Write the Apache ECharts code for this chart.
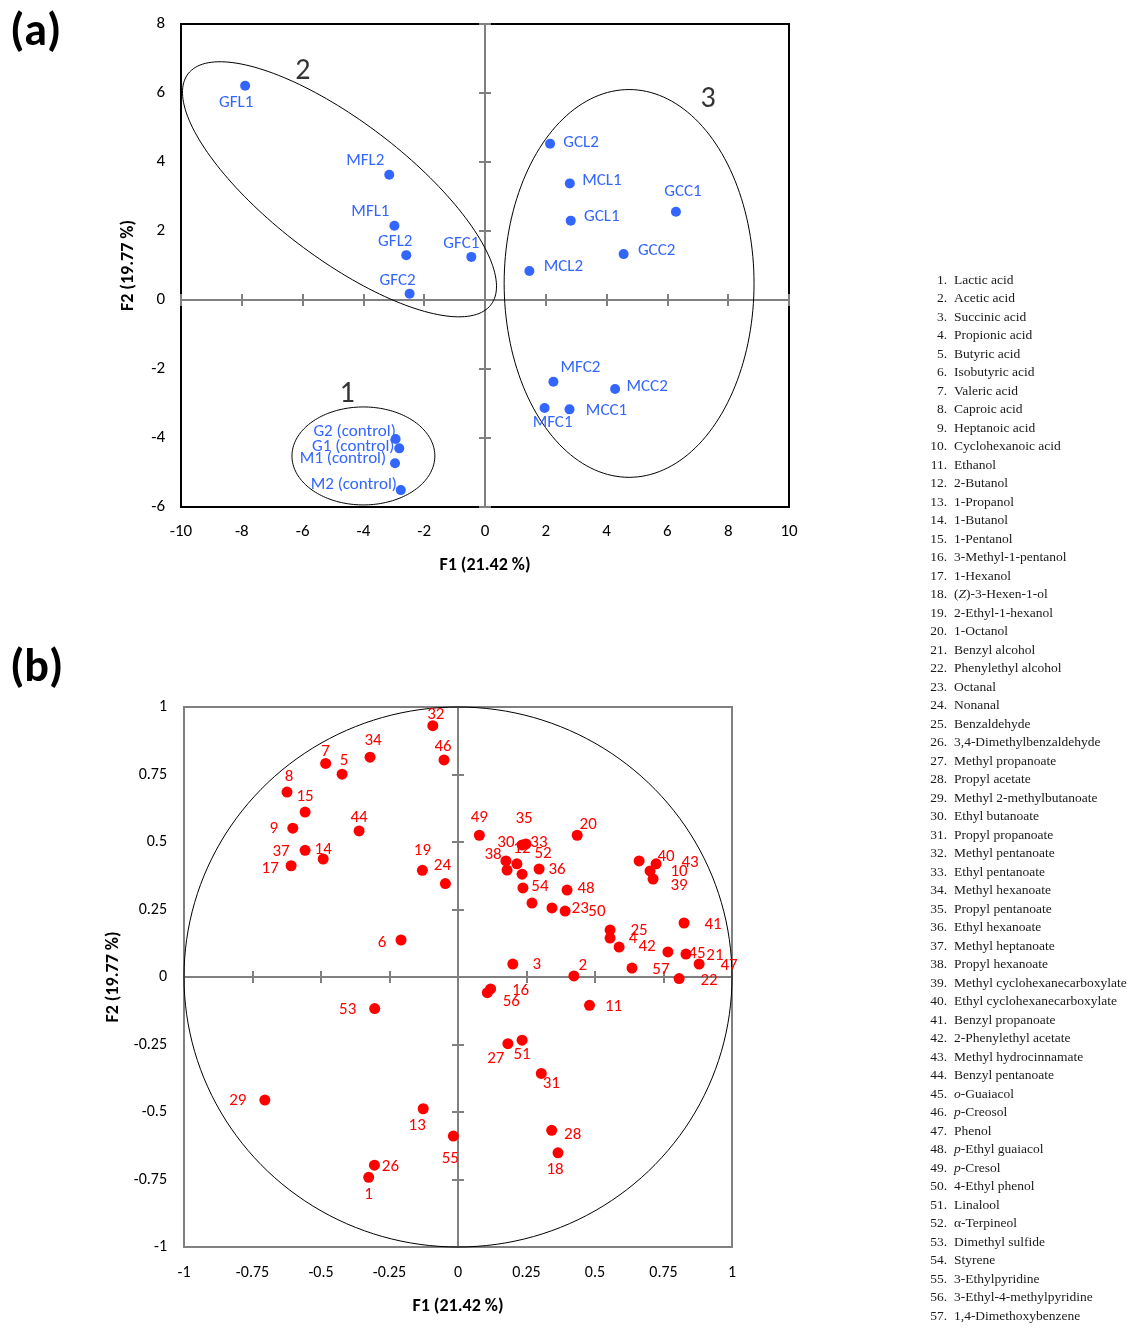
<!DOCTYPE html>
<html><head><meta charset="utf-8">
<script src="https://cdn.jsdelivr.net/npm/echarts@6/dist/echarts.min.js"></script>
<style>html,body{margin:0;padding:0;background:#fff}#c{width:1139px;height:1329px}</style>
</head><body><div id="c"></div>
<script>
// ---------- Panel (a): scores ----------
const aNames = ['GFL1','MFL2','MFL1','GFL2','GFC1','GFC2','GCL2','MCL1','GCL1','GCC1','GCC2','MCL2','MFC2','MCC2','MFC1','MCC1','G2 (control)','G1 (control)','M1 (control)','M2 (control)'];
const aF1 = [-7.89,-3.15,-2.98,-2.59,-0.45,-2.48,2.14,2.79,2.82,6.28,4.56,1.46,2.25,4.28,1.96,2.78,-2.94,-2.82,-2.96,-2.77];
const aF2 = [6.21,3.63,2.15,1.30,1.25,0.18,4.53,3.38,2.30,2.56,1.33,0.84,-2.37,-2.58,-3.13,-3.17,-4.03,-4.30,-4.73,-5.51];
const aXTicks = {min:-10, max:10, interval:2};
const aYTicks = {min:-6, max:8, interval:2};
// group ellipses: centre, conjugate semi-axis vectors (data units)
const ellCx = [-4.0, -4.786, 4.74];
const ellCy = [-4.52, 3.209, 0.48];
const ellUx = [2.35, 4.983, 4.11];
const ellUy = [0, -3.345, 0];
const ellVx = [0, -1.359, 0];
const ellVy = [1.42, -1.574, 5.62];
const groupNames = ['1','2','3'];
const groupX = [-4.54, -5.99, 7.34];
const groupY = [-2.75, 6.61, 5.80];

// ---------- Panel (b): loadings ----------
const bLabels = ['1','2','3','4','5','6','7','8','9','10','11','12','13','14','15','16','17','18','19','20','21','22','23','24','25','26','27','28','29','30','31','32','33','34','35','36','37','38','39','40','41','42','43','44','45','46','47','48','49','50','51','52','53','54','55','56','57',''];
const bF1 = [-0.326,0.423,0.200,0.555,-0.423,-0.208,-0.483,-0.624,-0.603,0.701,0.480,0.215,-0.127,-0.492,-0.558,0.119,-0.609,0.365,-0.130,0.435,0.832,0.807,0.391,-0.046,0.555,-0.305,0.182,0.342,-0.705,0.175,0.304,-0.092,0.248,-0.321,0.234,0.296,-0.558,0.179,0.712,0.723,0.825,0.588,0.661,-0.361,0.766,-0.051,0.880,0.398,0.078,0.343,0.234,0.234,-0.304,0.237,-0.017,0.107,0.635,0.270];
const bF2 = [-0.742,0.004,0.048,0.144,0.751,0.137,0.791,0.685,0.551,0.393,-0.105,0.419,-0.488,0.437,0.611,-0.044,0.412,-0.651,0.395,0.525,0.085,-0.006,0.244,0.346,0.174,-0.697,-0.247,-0.568,-0.456,0.430,-0.357,0.931,0.493,0.814,0.489,0.400,0.469,0.396,0.363,0.419,0.200,0.111,0.430,0.541,0.093,0.804,0.048,0.322,0.525,0.256,-0.234,0.381,-0.117,0.330,-0.589,-0.058,0.033,0.274];
const bXTicks = {min:-1, max:1, interval:0.25};
const bYTicks = {min:-1, max:1, interval:0.25};

const compounds = ['Lactic acid','Acetic acid','Succinic acid','Propionic acid','Butyric acid','Isobutyric acid','Valeric acid','Caproic acid','Heptanoic acid','Cyclohexanoic acid','Ethanol','2-Butanol','1-Propanol','1-Butanol','1-Pentanol','3-Methyl-1-pentanol','1-Hexanol','(Z)-3-Hexen-1-ol','2-Ethyl-1-hexanol','1-Octanol','Benzyl alcohol','Phenylethyl alcohol','Octanal','Nonanal','Benzaldehyde','3,4-Dimethylbenzaldehyde','Methyl propanoate','Propyl acetate','Methyl 2-methylbutanoate','Ethyl butanoate','Propyl propanoate','Methyl pentanoate','Ethyl pentanoate','Methyl hexanoate','Propyl pentanoate','Ethyl hexanoate','Methyl heptanoate','Propyl hexanoate','Methyl cyclohexanecarboxylate','Ethyl cyclohexanecarboxylate','Benzyl propanoate','2-Phenylethyl acetate','Methyl hydrocinnamate','Benzyl pentanoate','o-Guaiacol','p-Creosol','Phenol','p-Ethyl guaiacol','p-Cresol','4-Ethyl phenol','Linalool','α-Terpineol','Dimethyl sulfide','Styrene','3-Ethylpyridine','3-Ethyl-4-methylpyridine','1,4-Dimethoxybenzene'];

// ---------- styling (label placement offsets, px) ----------
const aLabelOffset = {'GFL1':[-9,17],'MFL2':[-24,-14],'MFL1':[-24,-14],'GFL2':[-11,-13],'GFC1':[-10,-13],'GFC2':[-12,-13],'GCL2':[31,-1],'MCL1':[32,-3],'GCL1':[31,-4],'GCC1':[7,-20],'GCC2':[33,-3],'MCL2':[34,-4],'MFC2':[27,-14],'MCC2':[32,-2],'MFC1':[8,15],'MCC1':[37,1],'G2 (control)':[-41,-7],'G1 (control)':[-46,-2],'M1 (control)':[-52,-4],'M2 (control)':[-47,-5]};
const bLabelOffset = {'1':[0,17],'2':[9,-10],'3':[24,1],'4':[23,1],'5':[2,-13],'6':[-19,3],'7':[0,-12],'8':[2,-15],'9':[-19,1],'10':[29,1],'11':[24,1],'12':[5,-15],'13':[-6,17],'14':[0,-9],'15':[0,-15],'16':[30,2],'17':[-21,3],'18':[-3,17],'19':[0,-20],'20':[11,-11],'21':[29,2],'22':[30,2],'23':[15,-2],'24':[-3,-18],'25':[29,1],'26':[16,2],'27':[-12,15],'28':[21,4],'29':[-27,1],'30':[0,-18],'31':[10,10],'32':[3,-11],'33':[13,-1],'34':[3,-16],'35':[2,-26],'36':[18,1],'37':[-24,1],'38':[-14,-15],'39':[26,7],'40':[10,-7],'41':[29,2],'42':[28,0],'43':[51,2],'44':[0,-13],'45':[29,2],'46':[-1,-13],'47':[30,2],'48':[19,-1],'49':[0,-18],'50':[45,4],'51':[0,15],'52':[21,-20],'53':[-27,1],'54':[17,-1],'55':[-3,23],'56':[24,9],'57':[29,2]};

const FONT = 'Carlito, Lato, sans-serif';
const GREY = '#808080';

function ellipseItem(params, api){
  const cx=api.value(0), cy=api.value(1), ux=api.value(2), uy=api.value(3), vx=api.value(4), vy=api.value(5);
  const pts=[];
  for(let i=0;i<=180;i++){const t=i/180*Math.PI*2; pts.push(api.coord([cx+ux*Math.cos(t)+vx*Math.sin(t), cy+uy*Math.cos(t)+vy*Math.sin(t)]));}
  return {type:'polyline', shape:{points:pts}, style:{stroke:'#000', fill:null, lineWidth:1}};
}

function labelAxisX(grid, t, fs, margin, gap){
  return {gridIndex:grid, type:'value', min:t.min, max:t.max, interval:t.interval, position:'bottom',
    axisLine:{show:false, onZero:false}, axisTick:{show:false}, splitLine:{show:false},
    axisLabel:{show:true, margin:margin, fontSize:fs, color:'#000', fontFamily:FONT},
    name:'F1 (21.42 %)', nameLocation:'middle', nameGap:gap,
    nameTextStyle:{fontSize:18, fontWeight:'bold', color:'#000', fontFamily:FONT}};
}
function labelAxisY(grid, t, fs, margin, gap){
  return {gridIndex:grid, type:'value', min:t.min, max:t.max, interval:t.interval, position:'left',
    axisLine:{show:false, onZero:false}, axisTick:{show:false}, splitLine:{show:false},
    axisLabel:{show:true, margin:margin, fontSize:fs, color:'#000', fontFamily:FONT},
    name:'F2 (19.77 %)', nameLocation:'middle', nameGap:gap, nameRotate:90,
    nameTextStyle:{fontSize:18, fontWeight:'bold', color:'#000', fontFamily:FONT}};
}
function zeroAxis(grid, t, pos, inside){
  return {gridIndex:grid, type:'value', min:t.min, max:t.max, interval:t.interval, position:pos,
    axisLine:{show:true, onZero:true, lineStyle:{color:GREY, width:2}},
    axisTick:{show:true, inside:inside, length:6, lineStyle:{color:GREY, width:2}},
    axisLabel:{show:false}, splitLine:{show:false}};
}

const aData = aNames.map((n,i)=>({name:n, value:[aF1[i], aF2[i]],
  label:{offset:aLabelOffset[n]||[0,0]}}));
const bData = bLabels.map((n,i)=>({name:n, value:[bF1[i], bF2[i]],
  label:{offset:bLabelOffset[n]||[0,0]}}));
const ellData = ellCx.map((c,i)=>[c, ellCy[i], ellUx[i], ellUy[i], ellVx[i], ellVy[i]]);
const groupData = groupNames.map((n,i)=>({name:n, value:[groupX[i], groupY[i]]}));

// legend list on the right
const legendEls = [];
const LF = 'Liberation Serif, serif';
compounds.forEach((n,i)=>{
  const y = 280 + i*18.5;
  legendEls.push({type:'text', x:947, y:y, silent:true,
    style:{text:(i+1)+'.', fontFamily:LF, fontSize:13.5, fill:'#1a1a1a', align:'right', verticalAlign:'middle'}});
  const rich = n.replace(/^\(Z\)/,'({i|Z})').replace(/^([op])-/,'{i|$1}-');
  legendEls.push({type:'text', x:954, y:y, silent:true,
    style:{text:rich, fontFamily:LF, fontSize:13.5, fill:'#1a1a1a', align:'left', verticalAlign:'middle',
      rich:{i:{fontStyle:'italic', fontFamily:LF, fontSize:13.5, fill:'#1a1a1a'}}}});
});

const chart = echarts.init(document.getElementById('c'), null, {renderer:'canvas'});
chart.setOption({
  animation:false,
  backgroundColor:'#fff',
  grid:[
    {left:181, top:24, width:608, height:483, show:true, borderColor:'#000', borderWidth:2, backgroundColor:'transparent'},
    {left:184, top:707, width:548, height:540, show:true, borderColor:GREY, borderWidth:2, backgroundColor:'transparent'}
  ],
  xAxis:[
    labelAxisX(0, aXTicks, 17, 16, 49), zeroAxis(0, aXTicks, 'bottom', true), zeroAxis(0, aXTicks, 'bottom', false),
    labelAxisX(1, bXTicks, 16, 18, 50), zeroAxis(1, bXTicks, 'bottom', true), zeroAxis(1, bXTicks, 'bottom', false)
  ],
  yAxis:[
    labelAxisY(0, aYTicks, 17, 16, 44), zeroAxis(0, aYTicks, 'left', true), zeroAxis(0, aYTicks, 'left', false),
    labelAxisY(1, bYTicks, 16, 17, 62), zeroAxis(1, bYTicks, 'left', true), zeroAxis(1, bYTicks, 'left', false)
  ],
  graphic:[
    {type:'text', left:10, top:10, style:{text:'(a)', fontFamily:FONT, fontSize:46, fontWeight:'bold', fill:'#000'}},
    {type:'text', left:10, top:646, style:{text:'(b)', fontFamily:FONT, fontSize:46, fontWeight:'bold', fill:'#000'}},
    {type:'group', children:legendEls}
  ],
  series:[
    {type:'custom', xAxisIndex:0, yAxisIndex:0, renderItem:ellipseItem, data:ellData, clip:false, silent:true, z:1,
      encode:{x:0, y:1}},
    {type:'scatter', xAxisIndex:0, yAxisIndex:0, data:groupData, symbolSize:0, silent:true,
      label:{show:true, position:'inside', formatter:'{b}', fontSize:30, color:'#000', fontFamily:FONT}},
    {type:'scatter', xAxisIndex:0, yAxisIndex:0, data:aData, symbolSize:10, z:3,
      itemStyle:{color:'#3366ff', opacity:1},
      label:{show:true, position:'inside', formatter:'{b}', fontSize:17, color:'#3366ff', fontFamily:FONT}},
    {type:'custom', xAxisIndex:3, yAxisIndex:3, renderItem:ellipseItem, data:[[0,0,1,0,0,1]], clip:false, silent:true, z:1,
      encode:{x:0, y:1}},
    {type:'scatter', xAxisIndex:3, yAxisIndex:3, data:bData, symbolSize:11, z:3,
      itemStyle:{color:'#ff0000', opacity:1},
      label:{show:true, position:'inside', formatter:'{b}', fontSize:17, color:'#ff0000', fontFamily:FONT}}
  ]
});
</script></body></html>
